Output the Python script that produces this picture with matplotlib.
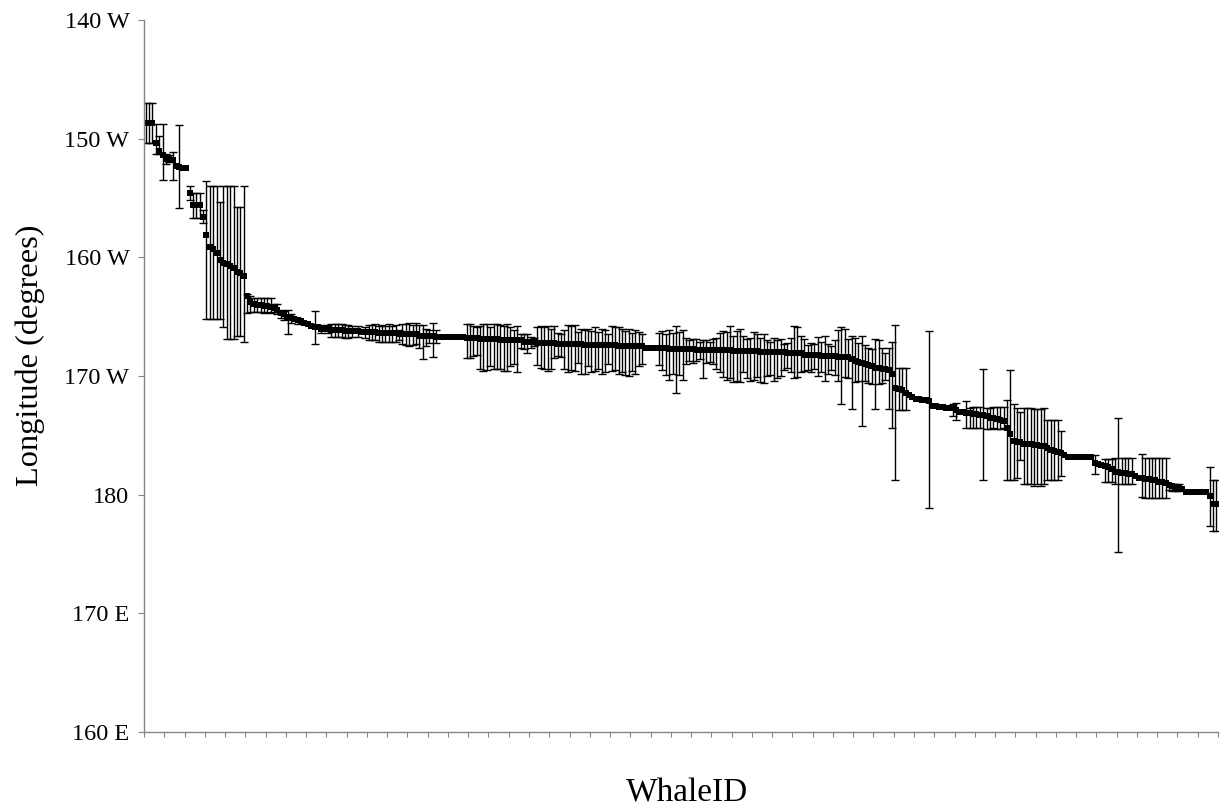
import matplotlib
matplotlib.use("Agg")
import matplotlib.pyplot as plt
import numpy as np

# Longitude per whale, in degrees west (190 = 170 E, 200 = 160 E), sorted
lon_mean = [
    148.7, 148.7, 148.7, 150.4, 151.0, 151.4, 151.7, 151.7, 151.8, 152.3,
    152.4, 152.5, 152.5, 154.6, 155.6, 155.6, 155.6, 156.6, 158.1, 159.1,
    159.3, 159.6, 160.2, 160.5, 160.6, 160.7, 160.9, 161.2, 161.3, 161.6,
    163.3, 163.8, 163.9, 164.0, 164.0, 164.1, 164.1, 164.2, 164.3, 164.4,
    164.7, 164.8, 165.0, 165.1, 165.2, 165.3, 165.4, 165.5, 165.6, 165.8,
    165.9, 165.9, 166.0, 166.0, 166.0, 166.1, 166.1, 166.1, 166.1, 166.2,
    166.2, 166.2, 166.2, 166.2, 166.3, 166.3, 166.3, 166.3, 166.3, 166.4,
    166.4, 166.4, 166.4, 166.4, 166.4, 166.5, 166.5, 166.5, 166.5, 166.5,
    166.5, 166.6, 166.6, 166.6, 166.6, 166.6, 166.7, 166.7, 166.7, 166.7,
    166.7, 166.7, 166.7, 166.7, 166.7, 166.8, 166.8, 166.8, 166.8, 166.9,
    166.9, 166.9, 166.9, 166.9, 166.9, 167.0, 167.0, 167.0, 167.0, 167.0,
    167.0, 167.0, 167.1, 167.1, 167.1, 167.1, 167.2, 167.2, 167.2, 167.2,
    167.2, 167.2, 167.3, 167.3, 167.3, 167.3, 167.3, 167.3, 167.3, 167.3,
    167.4, 167.4, 167.4, 167.4, 167.4, 167.4, 167.4, 167.4, 167.4, 167.4,
    167.5, 167.5, 167.5, 167.5, 167.5, 167.5, 167.5, 167.5, 167.6, 167.6,
    167.6, 167.6, 167.6, 167.6, 167.6, 167.7, 167.7, 167.7, 167.7, 167.7,
    167.7, 167.7, 167.7, 167.8, 167.8, 167.8, 167.8, 167.8, 167.8, 167.8,
    167.8, 167.8, 167.8, 167.8, 167.9, 167.9, 167.9, 167.9, 167.9, 167.9,
    167.9, 167.9, 168.0, 168.0, 168.0, 168.0, 168.0, 168.0, 168.0, 168.0,
    168.1, 168.1, 168.1, 168.1, 168.1, 168.2, 168.2, 168.2, 168.2, 168.2,
    168.3, 168.3, 168.3, 168.3, 168.3, 168.4, 168.4, 168.4, 168.4, 168.6,
    168.7, 168.8, 168.9, 169.0, 169.1, 169.2, 169.3, 169.3, 169.4, 169.4,
    169.5, 169.8, 171.0, 171.1, 171.2, 171.4, 171.6, 171.8, 171.9, 171.9,
    172.0, 172.0, 172.1, 172.5, 172.5, 172.6, 172.6, 172.7, 172.7, 172.7,
    172.9, 173.0, 173.0, 173.1, 173.1, 173.2, 173.2, 173.3, 173.3, 173.4,
    173.5, 173.5, 173.6, 173.7, 173.8, 174.4, 174.9, 175.5, 175.6, 175.6,
    175.7, 175.7, 175.7, 175.8, 175.8, 175.9, 175.9, 176.1, 176.2, 176.3,
    176.4, 176.5, 176.7, 176.8, 176.8, 176.8, 176.8, 176.8, 176.8, 176.8,
    176.8, 177.3, 177.4, 177.5, 177.6, 177.7, 177.8, 178.1, 178.1, 178.2,
    178.2, 178.3, 178.3, 178.4, 178.6, 178.6, 178.7, 178.7, 178.8, 178.8,
    178.9, 178.9, 179.0, 179.2, 179.3, 179.4, 179.4, 179.5, 179.8, 179.8,
    179.8, 179.8, 179.8, 179.8, 179.8, 180.1, 180.8, 180.8,
]

# error towards the east (drawn upwards) and towards the west (drawn downwards)
err_up = [
    1.7, 1.7, 1.7, 1.6, 1.2, 2.6, 0.4, 0.3, 0.7, 0,
    3.55, 0, 0, 0.6, 1.0, 1.0, 1.0, 0.6, 4.5, 5.1,
    5.3, 5.6, 4.9, 6.5, 6.6, 6.7, 6.9, 5.4, 5.5, 7.6,
    0.2, 0.5, 0.5, 0.6, 0.6, 0.7, 0.7, 0.8, 0.4, 0.5,
    0.3, 0.3, 0.6, 0.3, 0, 0.2, 0, 0, 0, 0,
    1.4, 0, 0.3, 0, 0.3, 0.5, 0.5, 0.5, 0.5, 0.5,
    0.5, 0.4, 0, 0.4, 0, 0.4, 0.6, 0.6, 0.7, 0.6,
    0.7, 0.6, 0.8, 0.6, 0.7, 0.4, 0.9, 0.9, 1.0, 0.8,
    1.0, 0.9, 0.9, 0.6, 0.5, 1.1, 0.6, 0, 0, 0,
    0, 0, 0, 0, 0, 1.2, 1.2, 1.0, 0.9, 1.1,
    1.3, 1.3, 1.0, 1.3, 1.3, 1.3, 1.2, 1.4, 1.1, 0.9,
    1.2, 0.5, 0.6, 0.6, 0.4, 0.3, 1.3, 1.4, 1.3, 1.4,
    1.2, 1.4, 0.9, 0.8, 1.2, 1.6, 1.5, 1.6, 1.0, 1.3,
    1.3, 1.4, 1.2, 1.5, 1.1, 1.4, 1.3, 0.9, 1.6, 1.5,
    1.6, 1.5, 1.3, 1.5, 1.1, 1.4, 1.2, 1.0, 0, 0,
    0, 0, 1.2, 1.4, 1.1, 1.6, 1.3, 1.9, 1.4, 1.6,
    0.9, 0.7, 0.8, 0.9, 0.7, 0.8, 0.8, 0.7, 0.9, 1.0,
    1.4, 1.6, 1.5, 2.0, 1.3, 1.7, 1.9, 1.3, 1.0, 1.1,
    1.6, 1.4, 1.2, 1.5, 1.0, 0.9, 1.2, 1.0, 1.1, 0.7,
    0.9, 1.3, 2.3, 2.2, 1.5, 1.3, 0.8, 1.0, 0.9, 1.5,
    1.2, 1.7, 1.0, 0.8, 1.3, 2.3, 2.5, 2.4, 1.5, 2.0,
    1.9, 1.6, 2.3, 1.6, 1.5, 1.5, 2.4, 2.3, 1.8, 1.3,
    1.9, 2.7, 5.3, 1.8, 1.9, 2.1, 0, 0, 0, 0,
    0, 0, 5.9, 0, 0, 0, 0, 0, 0, 0.3,
    0.6, 0, 0, 1.0, 0.4, 0.6, 0.6, 0.7, 3.9, 0.7,
    0.8, 0.9, 1.0, 1.1, 1.2, 2.4, 5.4, 3.1, 2.9, 2.6,
    3.0, 3.0, 3.0, 3.0, 3.0, 3.1, 3.2, 2.4, 2.5, 2.6,
    2.7, 1.9, 0, 0, 0, 0, 0, 0, 0, 0,
    0, 0.6, 0, 0, 0.6, 0.7, 0.8, 1.2, 4.6, 1.3,
    1.3, 1.4, 1.4, 0, 0, 2.0, 1.8, 1.8, 1.9, 1.9,
    2.0, 2.0, 2.1, 0.1, 0.2, 0.3, 0.3, 0, 0, 0,
    0, 0, 0, 0, 0, 2.4, 2.0, 2.0,
]

err_dn = [
    1.7, 1.7, 1.7, 0.9, 0.3, 2.1, 0.4, 0.3, 1.7, 0,
    3.45, 0, 0, 0.6, 1.1, 1.1, 1.1, 0.5, 7.1, 6.1,
    5.9, 5.6, 5.0, 5.4, 6.3, 6.2, 6.0, 5.4, 5.3, 5.5,
    1.4, 0.8, 0.7, 0.6, 0.6, 0.6, 0.5, 0.5, 0.3, 0.4,
    0.4, 0.5, 1.5, 0.4, 0, 0.3, 0, 0, 0, 0,
    1.4, 0, 0.4, 0, 0.4, 0.6, 0.6, 0.6, 0.6, 0.6,
    0.6, 0.5, 0, 0.5, 0, 0.5, 0.7, 0.7, 0.7, 0.7,
    0.7, 0.7, 0.7, 0.7, 0.7, 0.5, 0.8, 0.9, 1.0, 0.9,
    0.8, 1.0, 2.0, 0.9, 0.6, 1.8, 0.5, 0, 0, 0,
    0, 0, 0, 0, 0, 1.7, 1.7, 1.5, 1.4, 2.5,
    2.7, 2.6, 2.3, 2.5, 2.5, 2.4, 2.6, 2.6, 2.2, 2.0,
    2.7, 0.6, 0.6, 1.0, 0.5, 0.4, 1.9, 2.1, 2.2, 2.4,
    2.2, 1.3, 1.0, 1.1, 2.1, 2.4, 2.2, 2.3, 1.6, 2.5,
    2.4, 1.8, 2.3, 2.2, 2.0, 2.4, 2.3, 1.6, 2.2, 2.1,
    2.3, 2.2, 2.4, 2.5, 2.1, 2.3, 1.7, 1.5, 0, 0,
    0, 0, 1.5, 1.9, 2.3, 2.6, 2.1, 3.7, 2.2, 2.6,
    1.3, 1.0, 1.2, 0.9, 0.8, 2.4, 1.1, 1.0, 1.2, 1.6,
    1.9, 2.3, 2.5, 2.4, 2.6, 2.5, 2.6, 1.8, 2.3, 2.5,
    2.4, 2.2, 2.5, 2.6, 2.0, 1.9, 2.4, 2.2, 2.0, 1.5,
    1.2, 1.6, 2.1, 2.0, 1.6, 1.4, 1.3, 1.5, 1.2, 1.8,
    1.4, 2.1, 1.5, 1.2, 1.6, 2.0, 4.0, 1.7, 1.8, 4.2,
    1.8, 1.6, 5.3, 1.4, 1.5, 1.5, 3.5, 1.4, 1.2, 0.9,
    3.3, 4.6, 7.8, 1.8, 1.7, 1.5, 0, 0, 0, 0,
    0, 0, 9.0, 0, 0, 0, 0, 0, 0, 0.7,
    0.8, 0, 0, 1.3, 1.3, 1.2, 1.2, 1.1, 5.5, 1.1,
    1.0, 0.9, 0.9, 0.8, 0.6, 4.4, 3.9, 3.3, 3.0, 1.5,
    3.4, 3.4, 3.4, 3.5, 3.3, 3.4, 3.2, 2.7, 2.6, 2.5,
    2.4, 1.9, 0, 0, 0, 0, 0, 0, 0, 0,
    0, 1.0, 0, 0, 1.3, 1.2, 1.1, 1.0, 6.7, 0.9,
    0.9, 0.8, 0.8, 0, 0, 1.6, 1.6, 1.6, 1.5, 1.5,
    1.4, 1.4, 1.3, 0.4, 0.4, 0.3, 0.3, 0, 0, 0,
    0, 0, 0, 0, 0, 2.5, 2.3, 2.3,
]

y_ticks = [140, 150, 160, 170, 180, 190, 200]
y_tick_labels = ["140 W", "150 W", "160 W", "170 W", "180", "170 E", "160 E"]

FONT = "Liberation Serif"
AXIS_GREY = "#868686"

mean = np.array(lon_mean)
up = np.array(err_up)
dn = np.array(err_dn)
n = len(mean)
x = np.arange(n) + 0.5

fig = plt.figure(figsize=(12.32, 8.09), dpi=100)
ax = fig.add_axes([0.1169, 0.0952, 0.8717, 0.8801])

# only whales that actually have an error range get a bar
has_err = (up + dn) > 0
ax.errorbar(x[has_err], mean[has_err], yerr=[up[has_err], dn[has_err]],
            fmt="none", ecolor="black", elinewidth=1.0, capsize=2.6, capthick=1.0)
ax.plot(x, mean, "s", color="black", markersize=4.4, markeredgewidth=0)

ax.set_xlim(0, n)
ax.set_ylim(200, 140)
ax.set_yticks(y_ticks)
ax.set_yticklabels(y_tick_labels, fontfamily=FONT, fontsize=17.5)
ax.set_xticks(np.arange(0, n + 1, 6))
ax.set_xticklabels([])

for side in ("top", "right"):
    ax.spines[side].set_visible(False)
for side in ("left", "bottom"):
    ax.spines[side].set_color(AXIS_GREY)
    ax.spines[side].set_linewidth(1.0)
ax.tick_params(axis="y", direction="out", length=4.5, width=0.8, color=AXIS_GREY, pad=6)
ax.tick_params(axis="x", direction="out", length=3.5, width=0.8, color=AXIS_GREY)

fig.text(0.0245, 0.561, "Longitude (degrees)", rotation=90, ha="center", va="center",
         fontfamily=FONT, fontsize=23.3)
fig.text(0.558, 0.0198, "WhaleID", ha="center", va="center", fontfamily=FONT, fontsize=24)

fig.savefig("out.png", dpi=100)
